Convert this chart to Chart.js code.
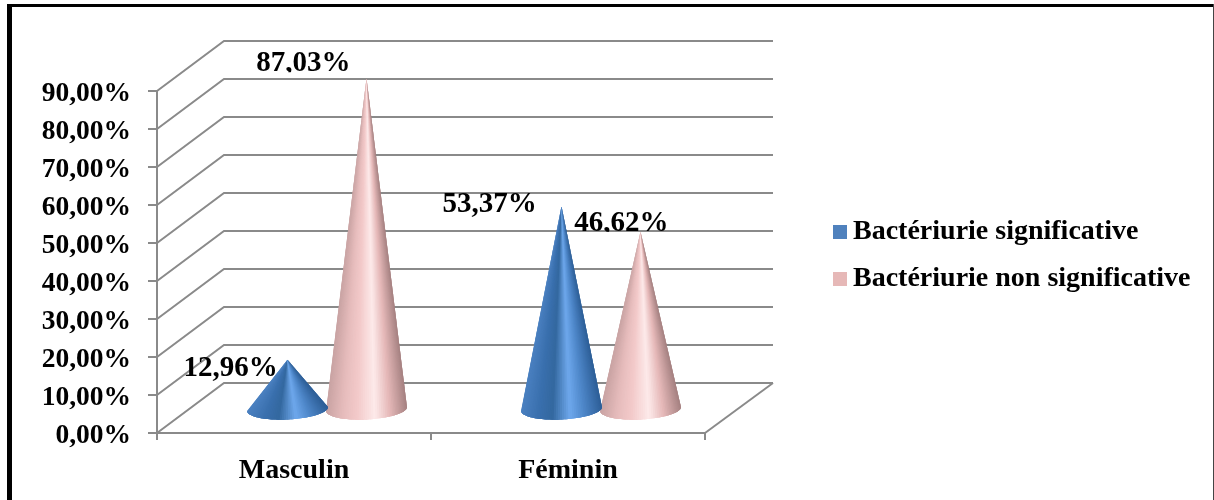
<!DOCTYPE html>
<html>
<head>
<meta charset="utf-8">
<title>Bactériurie</title>
<script src="https://cdn.jsdelivr.net/npm/chart.js@4/dist/chart.umd.min.js"></script>
<style>
  html, body { margin: 0; padding: 0; background: #fff; }
  canvas { display: block; }
</style>
</head>
<body>
<canvas id="cones" width="1214" height="500"></canvas>
<script>
var categories = ['Masculin', 'Féminin'];
var seriesNames = ['Bactériurie significative', 'Bactériurie non significative'];
var significative = [12.96, 53.37];
var nonSignificative = [87.03, 46.62];

var FONT = '"Liberation Serif", "Times New Roman", serif';
var GREY = '#8a8a8a';
var depthX = 67, depthY = 50;      // the fake 3D floor / walls
var coneShiftX = 33, coneShiftY = 24;
var shadeStops = [0, 0.2, 0.38, 0.6, 0.78, 1];
var coneColors = [
  [[74, 128, 192], [58, 112, 174], [51, 104, 159], [110, 168, 236], [77, 134, 200], [46, 95, 152]],
  [[201, 163, 163], [230, 188, 188], [243, 202, 202], [253, 234, 234], [230, 185, 185], [166, 130, 130]]
];
var swatchColors = ['#4f81bd', '#e6b8b7'];
// label placement per series / category: dx from tip, baseline dy from tip, clipped at baseline
var labelPlace = [
  [[-57, 16, false], [-72, 6, false]],
  [[-63, -7, true], [-19, -1, true]]
];

function fmt(v) {
  return v.toFixed(2).replace('.', ',') + '%';
}

function swatch(color) {
  var c = document.createElement('canvas');
  c.width = 18; c.height = 14;
  var g = c.getContext('2d');
  g.fillStyle = color;
  g.fillRect(4, 0, 14, 14);
  return c;
}

function shade(colors, t) {
  var i = 0;
  while (i < shadeStops.length - 2 && t > shadeStops[i + 1]) i++;
  var f = (t - shadeStops[i]) / (shadeStops[i + 1] - shadeStops[i]);
  var c = [0, 1, 2].map(function (k) {
    return Math.round(colors[i][k] + (colors[i + 1][k] - colors[i][k]) * f);
  });
  return 'rgb(' + c.join(',') + ')';
}

// cone = thin wedges from the tip to the front half of the tilted base ellipse,
// each one runs under the next so no seams show
function drawCone(ctx, cx, tipY, baseY, half, colors) {
  var ry = 10.5, tilt = -0.05, n = 60;
  function pt(a) {
    var ex = half * Math.cos(a), ey = ry * Math.sin(a);
    return [cx + ex * Math.cos(tilt) - ey * Math.sin(tilt), baseY + ex * Math.sin(tilt) + ey * Math.cos(tilt)];
  }
  ctx.save();
  for (var i = 0; i < n; i++) {
    var end = Math.min(i + 3, n);
    ctx.beginPath();
    ctx.moveTo(cx, tipY);
    for (var k = i; k <= end; k++) {
      var p = pt(Math.PI - Math.PI * k / n);
      ctx.lineTo(p[0], p[1]);
    }
    ctx.closePath();
    ctx.fillStyle = shade(colors, (1 - Math.cos((i + 0.5) / n * Math.PI)) / 2);
    ctx.fill();
  }
  ctx.restore();
}

var conePlugin = {
  id: 'cones',
  beforeDraw: function (chart) {
    var ctx = chart.ctx;
    ctx.save();
    ctx.fillStyle = '#000';
    ctx.fillRect(7, 4, 5, 496);
    ctx.fillRect(7, 4, 1207, 3);
    ctx.fillStyle = '#444';
    ctx.fillRect(1213, 4, 1, 496);
    ctx.restore();
  },
  afterLayout: function (chart) {
    // move the legend box off the plot, where the original has it
    var l = chart.legend;
    l.left = 818; l.right = 1214;
    l.top = 199; l.bottom = 325;
  },
  beforeDatasetsDraw: function (chart) {
    var ctx = chart.ctx, y = chart.scales.y, a = chart.chartArea;
    ctx.save();
    ctx.strokeStyle = GREY;
    ctx.lineWidth = 2;
    y.ticks.forEach(function (t) {
      var py = y.getPixelForValue(t.value);
      ctx.beginPath();
      ctx.moveTo(a.left, py);
      ctx.lineTo(a.left + depthX, py - depthY);
      ctx.lineTo(a.right + depthX + 1, py - depthY);
      ctx.stroke();
    });
    ctx.beginPath();
    ctx.moveTo(a.right, a.bottom);
    ctx.lineTo(a.right + depthX + 1, a.bottom - depthY);
    ctx.stroke();
    ctx.restore();
  },
  beforeDatasetDraw: function (chart, args) {
    var colors = coneColors[args.index];
    args.meta.data.forEach(function (bar) {
      drawCone(chart.ctx, bar.x + coneShiftX, bar.y - coneShiftY, bar.base - coneShiftY + 1, bar.width / 2 + 1, colors);
    });
    return false;
  },
  afterDatasetsDraw: function (chart) {
    var ctx = chart.ctx;
    chart.data.datasets.forEach(function (ds, i) {
      chart.getDatasetMeta(i).data.forEach(function (bar, j) {
        var p = labelPlace[i][j];
        var lx = bar.x + coneShiftX + p[0], ly = bar.y - coneShiftY + p[1];
        ctx.save();
        if (p[2]) {
          ctx.beginPath();
          ctx.rect(lx - 80, ly - 40, 160, 41);
          ctx.clip();
        }
        ctx.font = 'bold 29px ' + FONT;
        ctx.fillStyle = '#000';
        ctx.textAlign = 'center';
        ctx.textBaseline = 'alphabetic';
        ctx.fillText(fmt(ds.data[j]), lx, ly);
        ctx.restore();
      });
    });
  }
};

new Chart(document.getElementById('cones').getContext('2d'), {
  type: 'bar',
  data: {
    labels: categories,
    datasets: [
      { label: seriesNames[0], data: significative, backgroundColor: swatchColors[0], categoryPercentage: 0.5766, barPercentage: 1 },
      { label: seriesNames[1], data: nonSignificative, backgroundColor: swatchColors[1], categoryPercentage: 0.5766, barPercentage: 1 }
    ]
  },
  options: {
    responsive: false,
    animation: false,
    // right: the legend is capped at a quarter of the free width, this leaves the plot ending at x=705
    layout: { padding: { top: 91, left: 0, right: 274, bottom: 0 } },
    plugins: {
      tooltip: { enabled: false },
      legend: {
        position: 'right',
        align: 'start',
        labels: {
          color: '#000',
          font: { family: FONT, size: 28, weight: 'bold' },
          usePointStyle: true,
          pointStyleWidth: 2,
          padding: 19,
          generateLabels: function (c) {
            var items = Chart.defaults.plugins.legend.labels.generateLabels(c);
            items.forEach(function (it, i) { it.pointStyle = swatch(swatchColors[i]); });
            return items;
          }
        }
      }
    },
    scales: {
      x: {
        afterFit: function (s) { s.height = 67; },
        grid: { drawOnChartArea: false, color: GREY, lineWidth: 2, tickLength: 7, offset: true },
        border: { color: GREY, width: 2 },
        ticks: { color: '#000', font: { family: FONT, size: 28, weight: 'bold' }, padding: 14, maxRotation: 0 }
      },
      y: {
        min: 0,
        max: 90,
        afterFit: function (s) { s.width = 157; },
        grid: { drawOnChartArea: false, color: GREY, lineWidth: 2, tickLength: 9 },
        border: { color: GREY, width: 2 },
        ticks: {
          stepSize: 10,
          color: '#000',
          padding: 17,
          labelOffset: 3,
          font: { family: FONT, size: 27.5, weight: 'bold' },
          callback: function (v) { return fmt(v); }
        }
      }
    }
  },
  plugins: [conePlugin]
});
</script>
</body>
</html>
